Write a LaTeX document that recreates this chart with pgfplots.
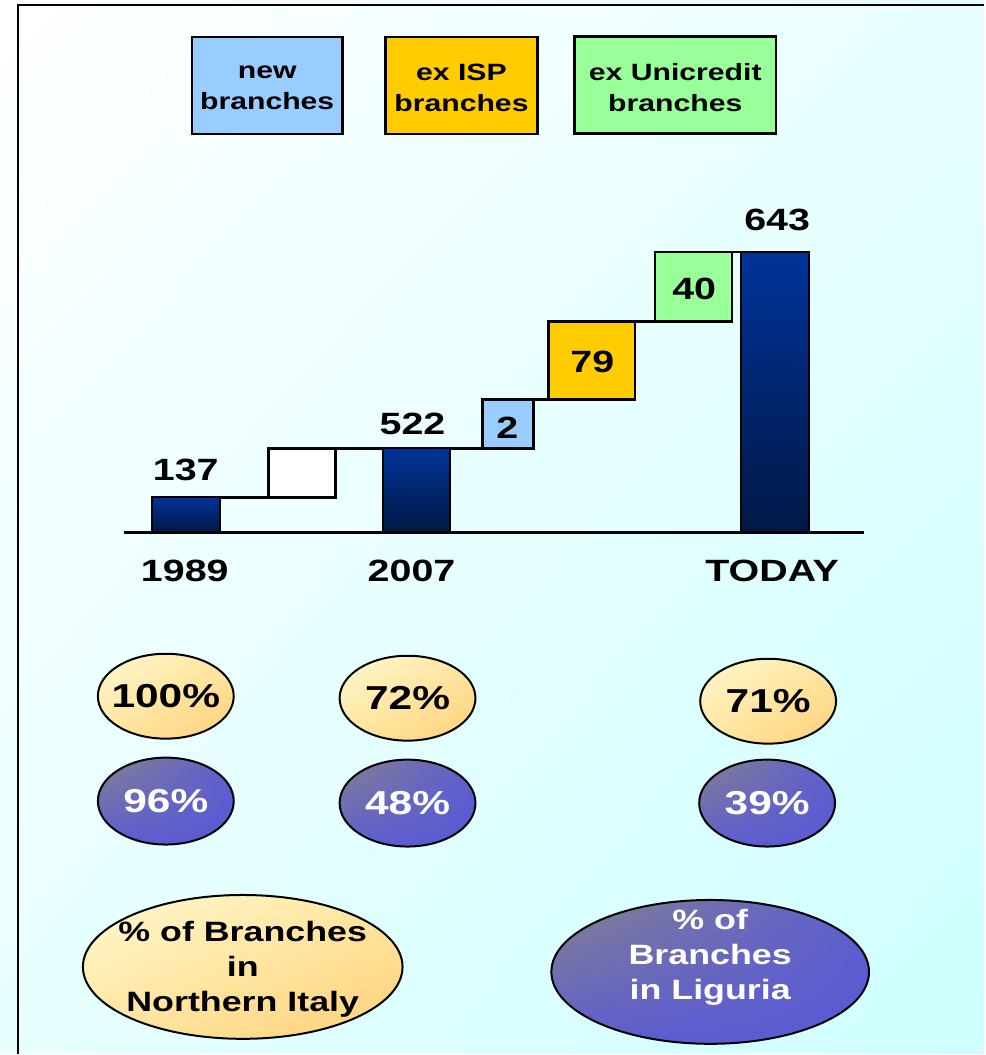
\documentclass[border=0pt]{standalone}
\usepackage{fontspec}
\setmainfont{Liberation Sans}[FakeStretch=1.28]
\usepackage{pgfplots}
\pgfplotsset{compat=1.18}
\usetikzlibrary{shapes.geometric,shadings}

\definecolor{barblue}{RGB}{0,51,153}
\definecolor{barmid}{RGB}{0,38,112}
\definecolor{bardark}{RGB}{0,24,68}
\definecolor{newblue}{RGB}{153,204,255}
\definecolor{ispgold}{RGB}{255,204,0}
\definecolor{ucgreen}{RGB}{153,255,153}
\definecolor{ylA}{RGB}{255,249,210}
\definecolor{ylM}{RGB}{255,230,160}
\definecolor{ylB}{RGB}{255,208,120}
\definecolor{puA}{RGB}{132,130,142}
\definecolor{puM}{RGB}{93,93,208}
\definecolor{puB}{RGB}{90,90,212}
\definecolor{bgA}{RGB}{255,255,255}
\definecolor{bgM}{RGB}{232,255,255}
\definecolor{bgB}{RGB}{205,255,255}

\newcommand{\numfont}{\fontsize{15.4}{18}\selectfont\bfseries}
\newcommand{\pctfont}{\fontsize{16.6}{19}\selectfont\bfseries}
\newcommand{\keyfont}{\fontsize{14}{17.5}\selectfont\bfseries}
\newcommand{\legfont}{\fontsize{11.8}{15.5}\selectfont\bfseries}

\tikzset{
  ylw/.style={ellipse, draw=black, line width=1pt, inner sep=0pt,
    upper left=ylA, upper right=ylM, lower left=ylM, lower right=ylB},
  prp/.style={ellipse, draw=black, line width=1pt, inner sep=0pt,
    upper left=puA, upper right=puM, lower left=puM, lower right=puB},
  legbox/.style={draw=black, line width=1.2pt, minimum height=48.5pt, inner sep=0pt},
  total/.style={ybar, bar width=34pt, draw=black, line width=1pt,
    top color=barblue, middle color=barmid, bottom color=bardark},
}

\begin{document}
\begin{tikzpicture}
\begin{axis}[
    scale only axis,
    width=492.5pt, height=527.5pt,
    xmin=0, xmax=985, ymin=-522, ymax=533,
    hide axis, clip=false,
]
% background and frame
\shade[upper left=bgA, upper right=bgM, lower left=bgM, lower right=bgB]
  (axis cs:0,-522) rectangle (axis cs:985,533);
\draw[line width=1.2pt] (axis cs:18,-522) -- (axis cs:18,528) -- (axis cs:985,528);

% connectors
\addplot[black, line width=1.2pt] coordinates {(220,35) (336,35)};
\addplot[black, line width=1.2pt] coordinates {(269,84) (534,84)};
\addplot[black, line width=1.2pt] coordinates {(483,133) (636,133)};
\addplot[black, line width=1.2pt] coordinates {(549,211) (733,211)};
\addplot[black, line width=1.2pt] coordinates {(656,281) (810,281)};

% totals
\addplot[total] coordinates {(186,35)};
\addplot[total] coordinates {(417,84)};
\addplot[total] coordinates {(776,281)};

% floating steps
\addplot[draw=black, line width=1.2pt, fill=white]
  coordinates {(269,35) (336,35) (336,84) (269,84)} -- cycle;
\addplot[draw=black, line width=1.2pt, fill=newblue]
  coordinates {(483,84) (534,84) (534,133) (483,133)} -- cycle;
\addplot[draw=black, line width=1.2pt, fill=ispgold]
  coordinates {(549,133) (636,133) (636,211) (549,211)} -- cycle;
\addplot[draw=black, line width=1.2pt, fill=ucgreen]
  coordinates {(656,211) (733,211) (733,281) (656,281)} -- cycle;

% baseline
\draw[line width=1.5pt] (axis cs:124,0) -- (axis cs:865,0);

% value labels
\node[font=\numfont] at (axis cs:186,63) {137};
\node[font=\numfont] at (axis cs:413,109) {522};
\node[font=\numfont] at (axis cs:778,313) {643};
\node[font=\numfont] at (axis cs:508,105) {2};
\node[font=\numfont] at (axis cs:593,171) {79};
\node[font=\numfont] at (axis cs:695,244) {40};
\node[font=\numfont] at (axis cs:185,-39) {1989};
\node[font=\numfont] at (axis cs:412,-39) {2007};
\node[font=\numfont] at (axis cs:773,-39) {TODAY};

% legend boxes
\node[legbox, fill=newblue, minimum width=75.5pt] at (axis cs:267.5,447.5) {};
\node[legbox, fill=ispgold, minimum width=76pt] at (axis cs:462,447.5) {};
\node[legbox, fill=ucgreen, minimum width=101pt] at (axis cs:676,448) {};
\node[font=\legfont, align=center] at (axis cs:267.5,445) {new\\branches};
\node[font=\legfont, align=center] at (axis cs:462,445) {ex ISP\\branches};
\node[font=\legfont, align=center] at (axis cs:676,445) {ex Unicredit\\branches};

% share circles
\node[ylw, minimum width=68pt, minimum height=42.5pt] at (axis cs:166,-164) {};
\node[ylw, minimum width=68pt, minimum height=42.5pt] at (axis cs:408,-166) {};
\node[ylw, minimum width=68pt, minimum height=42.5pt] at (axis cs:769,-169) {};
\node[prp, minimum width=68pt, minimum height=43.5pt] at (axis cs:166,-269) {};
\node[prp, minimum width=68pt, minimum height=43.5pt] at (axis cs:408,-271) {};
\node[prp, minimum width=68pt, minimum height=43.5pt] at (axis cs:768,-271) {};
\node[font=\pctfont] at (axis cs:166,-164) {100\%};
\node[font=\pctfont] at (axis cs:408,-166) {72\%};
\node[font=\pctfont] at (axis cs:769,-169) {71\%};
\node[font=\pctfont, text=white] at (axis cs:166,-269) {96\%};
\node[font=\pctfont, text=white] at (axis cs:408,-271) {48\%};
\node[font=\pctfont, text=white] at (axis cs:768,-271) {39\%};

% key ellipses
\node[ylw, minimum width=160pt, minimum height=72pt] at (axis cs:243,-435) {};
\node[font=\keyfont, align=center] at (axis cs:243,-437) {\% of Branches\\in\\Northern Italy};
\node[prp, minimum width=159pt, minimum height=72pt] at (axis cs:711,-440) {};
\node[font=\keyfont, align=center, text=white] at (axis cs:711,-425) {\% of\\Branches\\in Liguria};
\end{axis}
\end{tikzpicture}
\end{document}
